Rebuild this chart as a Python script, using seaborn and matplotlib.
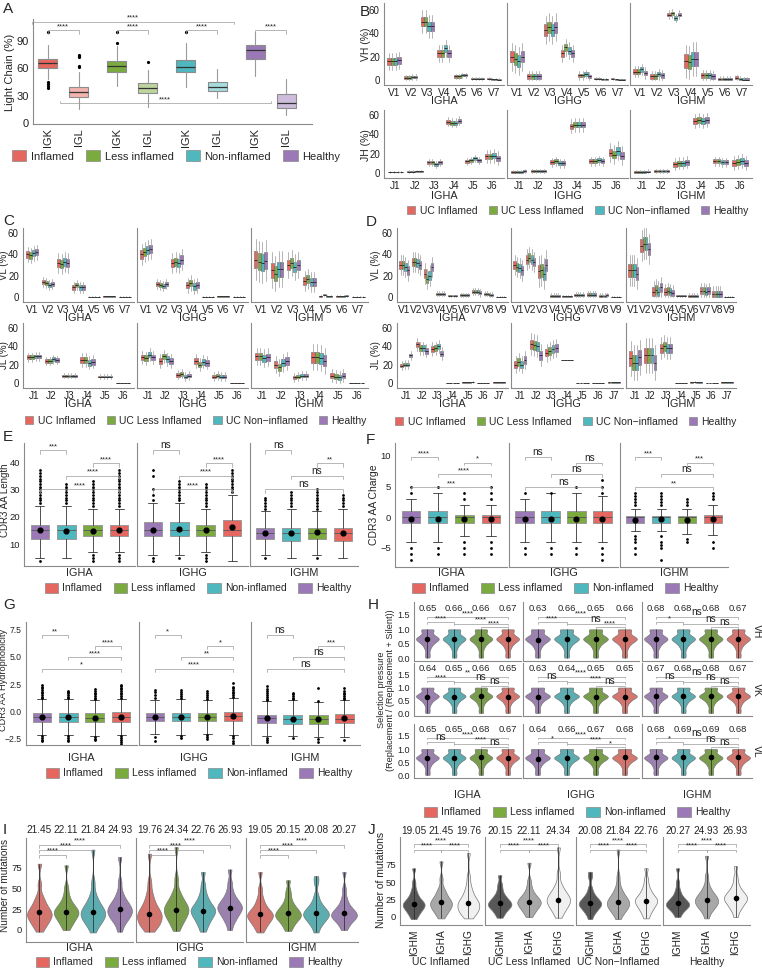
import numpy as np
import pandas as pd
import matplotlib
matplotlib.use("Agg")
import matplotlib.pyplot as plt
from matplotlib.colors import to_rgb
from matplotlib.patches import Patch
import seaborn as sns

sns.set_style("white")
plt.rcParams['font.family'] = ['Liberation Sans', 'DejaVu Sans']
plt.rcParams['font.size'] = 7

# ---------------- data ----------------
conds = ["Inflamed", "Less inflamed", "Non-inflamed", "Healthy"]
cond_colors = ["#E5675F", "#7BAA3F", "#4FB8BE", "#9B79B6"]
uc_labels = ["UC Inflamed", "UC Less Inflamed", "UC Non\u2212inflamed", "Healthy"]
isotypes = ["IGHA", "IGHG", "IGHM"]

# A: light chain usage, per condition [IGK, IGL]
a_ticks = ["IGK", "IGL"]
a_lo = [[48, 15], [41, 18], [40, 28], [52, 9]]
a_q1 = [[60, 29], [56, 33], [56, 35], [70, 16]]
a_med = [[66, 34], [62, 38], [61, 40], [80, 22]]
a_q3 = [[70, 40], [68, 44], [69, 45], [86, 32]]
a_hi = [[86, 56], [84, 58], [88, 59], [100, 48]]
a_fliers = [[[100, 45, 43, 41, 38], [75, 74, 72, 63, 61]], [[100, 88], [67]], [[100], []], [[], []]]

# B: VH / JH gene usage (%), medians per gene [Inflamed, Less, Non, Healthy], box half heights
vh_genes = ["V1", "V2", "V3", "V4", "V5", "V6", "V7"]
vh_med = [
    [[16, 16, 16, 17], [2, 2, 2.5, 2.5], [50, 50, 46, 46], [23, 23, 27, 23], [3, 3, 4, 4], [1, 1, 1, 1], [1, 0.5, 0.5, 0.3]],
    [[20, 18, 16, 20], [3, 3, 3, 3], [43, 45, 43, 45], [23, 28, 25, 23], [4, 4, 5, 3], [1, 1, 0.5, 0.5], [1, 0.5, 0.3, 0.3]],
    [[7, 7, 9, 6], [3, 3, 5, 4], [56, 57, 53, 56], [16, 15, 18, 18], [4, 4, 4, 3], [1, 1, 1, 1], [2, 1, 0.3, 0.3]],
]
vh_half = [[3, 1, 4, 3, 1, 0.5, 0.5], [5, 2, 5, 3, 1.5, 0.5, 0.3], [2, 2, 1.5, 6, 2, 1, 1]]
jh_genes = ["J1", "J2", "J3", "J4", "J5", "J6"]
jh_med = [
    [[1, 1, 1, 1], [1.5, 1.5, 2, 2], [11, 11, 9, 11], [53, 52, 52, 54], [12, 13, 15, 13], [17, 17, 18, 15]],
    [[1, 1, 1, 2], [2, 2, 2, 2], [11, 12, 10, 10], [48, 50, 50, 50], [12, 12, 13, 12], [21, 19, 23, 18]],
    [[1, 1, 1, 1.5], [2, 2, 2, 2], [9, 10, 10, 11], [54, 55, 54, 55], [12, 12, 11, 11], [10, 11, 12, 10]],
]
jh_half = [[0.5, 0.5, 1.5, 2, 1.5, 3], [1, 1, 2, 3, 2, 4], [1, 1, 2.5, 3, 2, 3]]

# C: kappa VL / JL
ck_vgenes = ["V1", "V2", "V3", "V4", "V5", "V6", "V7"]
ck_vmed = [
    [[40, 39, 41, 42], [14, 13, 11, 12], [32, 31, 33, 32], [9, 11, 9, 9], [0, 0, 0, 0], [0.5, 0.5, 0.5, 0.5], [0, 0, 0, 0]],
    [[40, 42, 44, 45], [12, 11, 10, 12], [32, 33, 32, 35], [11, 13, 10, 11], [0, 0, 0, 0], [0.5, 0.5, 0.5, 0.5], [0, 0, 0, 0]],
    [[35, 33, 32, 34], [25, 22, 26, 26], [30, 32, 28, 30], [15, 17, 14, 14], [0.5, 2, 0.5, 0.5], [0.5, 0.5, 0.5, 1], [0, 0, 0, 0]],
]
ck_vhalf = [[3, 2, 4, 2, 0.2, 0.2, 0.2], [4, 2, 4, 3, 0.2, 0.2, 0.2], [8, 7, 5, 4, 0.5, 0.5, 0.2]]
ck_jgenes = ["J1", "J2", "J3", "J4", "J5", "J6"]
ck_jmed = [
    [[28, 28, 29, 29], [24, 24, 26, 25], [8, 8, 8, 8], [25, 25, 22, 23], [7, 7, 7, 7], [0, 0, 0, 0]],
    [[28, 27, 31, 28], [24, 29, 26, 24], [9, 10, 7, 8], [24, 20, 23, 22], [7, 8, 7, 7], [0, 0, 0, 0]],
    [[29, 29, 27, 28], [20, 17, 22, 24], [6, 7, 8, 8], [28, 28, 27, 24], [8, 7, 6, 8], [0, 0, 0, 0]],
]
ck_jhalf = [[2, 2, 1, 3, 1, 0.2], [3, 3, 2, 3, 2, 0.2], [4, 4, 2, 6, 3, 0.2]]

# D: lambda VL / JL
dl_vgenes = ["V1", "V2", "V3", "V4", "V5", "V6", "V7", "V8", "V9"]
dl_vmed = [
    [[30, 30, 28, 25], [33, 33, 32, 30], [22, 17, 20, 28], [3, 3, 3, 3], [1, 1, 1, 1], [2, 2, 2, 2], [5, 5, 5, 4], [3, 3, 2, 2], [0, 0, 0, 0]],
    [[30, 28, 27, 25], [35, 37, 35, 33], [24, 25, 22, 30], [1, 1, 1, 1], [0.5, 0.5, 0.5, 0.5], [2, 2, 2, 2], [2, 2, 2, 2], [1, 1, 1, 1.5], [0, 0, 0, 0]],
    [[25, 25, 25, 22], [48, 50, 50, 45], [5, 7, 5, 9], [5, 6, 5, 4], [1, 1, 1, 1], [1, 1, 1, 1], [6, 6, 5, 6], [3, 3, 3, 3], [0, 0, 0, 0]],
]
dl_vhalf = [[4, 4, 4, 1, 0.5, 0.7, 1.5, 1, 0.2], [4, 4, 6, 1, 0.5, 1, 1.5, 1, 0.2], [6, 6, 4, 3, 0.5, 1, 3, 3, 0.2]]
dl_jgenes = ["J1", "J2", "J3", "J4", "J5", "J6", "J7"]
dl_jmed = [
    [[19, 20, 20, 30], [42, 38, 38, 35], [37, 38, 40, 32], [0, 0, 0, 0], [0.5, 0.5, 0.5, 1], [0, 0, 0, 0], [0.5, 0.5, 0.5, 0.5]],
    [[20, 23, 20, 25], [42, 41, 40, 30], [33, 35, 37, 38], [25, 25, 25, 25], [0, 0, 0, 0], [0, 0, 0, 0], [0.5, 0.5, 0.5, 0.5]],
    [[27, 22, 22, 28], [30, 30, 30, 22], [38, 40, 38, 38], [0, 0, 0, 0], [0.5, 1, 0.5, 0.5], [0, 0, 0, 0], [0.5, 0.5, 0.5, 0.5]],
]
dl_jhalf = [[2, 3, 3, 0.2, 0.3, 0.2, 0.2], [4, 5, 4, 0.1, 0.2, 0.2, 0.2], [8, 8, 5, 0.2, 0.3, 0.2, 0.2]]

# E-G: order Healthy, Non-inflamed, Less inflamed, Inflamed
efg_colors = cond_colors[::-1]
e_q1 = [[12, 12, 13, 13], [13, 13, 13, 13], [12, 11, 12, 11]]
e_med = [[15, 15, 15, 15], [15, 15, 15, 15], [14, 14, 14, 14]]
e_q3 = [[17, 17, 17, 17], [18, 18, 17, 19], [16, 16, 16, 16]]
e_lo = [[5, 5, 7, 7], [6, 6, 7, 4], [6, 5, 6, 5]]
e_hi = [[24, 24, 23, 23], [25, 25, 23, 28], [22, 23, 22, 23]]
e_mean = [[15, 14.8, 14.9, 15.2], [15.3, 15.5, 15.3, 16.1], [14, 14, 14.3, 14]]
e_fl = [
    [[4] + list(range(25, 38)), list(range(25, 33)), [4, 5, 6] + list(range(24, 34)), [4, 5, 6] + list(range(24, 38))],
    [[4, 5, 26, 28, 30, 35, 37], [5] + list(range(26, 34)), [4, 5, 6] + list(range(24, 33)), list(range(29, 38))],
    [[5] + list(range(23, 28)), list(range(24, 30)), [5] + list(range(23, 31)), list(range(24, 29))],
]
e_sig = [["***", "****", "****", "****"], ["ns", "****", "****", "****"], ["ns", "**", "ns", "ns"]]
e_sig_y = [44.3, 39.6, 35, 30]

f_q1 = [[-1, -1, -1, -1], [-1, -1, -1, -1], [-1, -1, -1, -1]]
f_med = [[0, 0, 0, 0], [0, 0, 0, 0], [0, 0, 0, 0]]
f_q3 = [[1, 1, 0.3, 0.3], [1, 1, 1, 1], [0.2, 0.2, 0.2, 0.3]]
f_lo = [[-4, -4, -3, -3], [-4, -4, -4, -4], [-2.2, -2.3, -2.7, -2.9]]
f_hi = [[3, 4, 2, 2], [3, 4, 4, 3.5], [1.3, 1.3, 1.3, 2]]
f_mean = [[-0.3, -0.3, -0.3, -0.3], [-0.3, -0.3, -0.3, -0.3], [-0.4, -0.3, -0.4, -0.3]]
f_fl = [
    [[-5, -6, -7, 4, 5], [-5, -6, 5], [-4, -5, -6, 3, 4], [-4, -5, -6, 3, 4, 5]],
    [[-5, -6, 4], [-5, -6, 4], [-5, -6, 5], [-5, -6, -7, 4, 5, 6]],
    [[-3, -3.5, -4, -5, -6, 2, 2.5, 3, 3.5, 4], [-3, -4, -4.5, -5, -7, 2, 2.5, 3, 3.5, 4], [-3.5, -4, 2, 2.5, 3], [-4, -5, 3, 3.5, 4]],
]
f_sig = [["****", "*", "****", "***"], ["ns", "ns", "ns", "ns"], ["***", "***", "ns", "**"]]
f_sig_y = [9.8, 8.9, 7.0, 4.9]

g_q1 = [[-0.95, -0.95, -1.0, -0.95], [-0.9, -0.9, -0.9, -0.9], [-1.1, -1.15, -1.15, -1.1]]
g_med = [[-0.55, -0.55, -0.6, -0.55], [-0.55, -0.5, -0.5, -0.45], [-0.65, -0.7, -0.75, -0.7]]
g_q3 = [[-0.15, -0.15, -0.2, -0.1], [-0.15, -0.15, -0.15, -0.05], [-0.3, -0.3, -0.35, -0.25]]
g_lo = [[-2.2, -2.2, -2.3, -2.2], [-2.1, -2.2, -2.1, -2.2], [-2.3, -2.25, -2.4, -2.35]]
g_hi = [[1.1, 1.1, 1.0, 1.15], [1.05, 1.1, 1.0, 1.25], [0.9, 1.0, 0.85, 1.0]]
g_mean = [[-0.55, -0.55, -0.6, -0.55], [-0.55, -0.5, -0.5, -0.45], [-0.65, -0.7, -0.75, -0.65]]
g_fl = [
    [[1.2, 1.35, 1.5, 1.65, 1.8, 1.95, 2.1, 2.25, 2.4, -2.3, -2.45, -2.6, -2.75],
     [1.2, 1.35, 1.5, 1.65, 1.8, 1.9, -2.3, -2.45, -2.6, -2.75],
     [1.1, 1.25, 1.4, 1.55, 1.7, 1.85, 2.0, -2.4, -2.55, -2.65],
     [1.25, 1.4, 1.55, 1.7, 1.85, 2.0, 2.15, 2.3, 2.45, -2.3, -2.45, -2.6, -2.8, -3.05]],
    [[1.2, 1.5, 1.75, 1.95, -2.4, -2.7],
     [1.2, 1.4, 1.6, 1.8, 1.95, -2.3, -2.45],
     [1.1, 1.3, 1.5, 1.7, 1.85, -2.2, -2.4, -2.55],
     [1.35, 1.5, 1.65, 1.8, 1.95, 2.1, 2.25, 2.55, -2.3, -2.5, -2.7, -2.9, -3.1]],
    [[1.0, 1.15, 1.3, 1.5, 1.7, 1.9, 2.05, 2.3, -2.45, -2.6, -2.8],
     [1.1, 1.25, 1.4, 1.55, 1.7, -2.5],
     [0.95, 2.1, -2.55, -2.85],
     [1.1, 1.25, 1.4, 1.55, 1.7, 1.85, 2.1, -2.6]],
]
g_sig = [["**", "****", "****", "*"], ["*", "*", "**", "****"], ["ns", "***", "ns", "ns"]]
g_sig_y = [7.0, 5.95, 4.95, 3.9]

# H: selection pressure, order Healthy, Non, Less, Inflamed
h_rows = ["VH", "VK", "VL"]
h_sample = [0.02, 0.15, 0.3, 0.4, 0.47, 0.52, 0.56, 0.6, 0.63, 0.65, 0.67, 0.69, 0.71,
            0.74, 0.78, 0.83, 0.9, 0.97, 1.0, 1.0]
h_mean = [
    [[0.65, 0.66, 0.66, 0.67], [0.63, 0.66, 0.65, 0.66], [0.68, 0.68, 0.68, 0.67]],
    [[0.64, 0.65, 0.66, 0.65], [0.63, 0.64, 0.65, 0.65], [0.67, 0.68, 0.68, 0.67]],
    [[0.65, 0.65, 0.68, 0.67], [0.64, 0.66, 0.67, 0.68], [0.68, 0.69, 0.69, 0.68]],
]
h_pairs = [(0, 3), (0, 1), (1, 3), (2, 3)]
h_pair_y = [1.42, 1.25, 1.2, 1.07]
h_sig = [
    [["****", "****", "****", "****"], ["****", "****", "ns", "****"], ["ns", "*", "ns", "ns"]],
    [["**", "****", "ns", "ns"], ["****", "ns", "****", "ns"], ["ns", "ns", "ns", "ns"]],
    [["****", "ns", "****", "ns"], ["****", "*", "****", "*"], ["ns", "*", "ns", "ns"]],
]

# I / J: number of mutations, per isotype [Inflamed, Less, Non, Healthy]
mut_samples = [
    [[-2, 3, 6, 9, 11, 13, 15, 17, 18, 20, 21, 23, 25, 27, 30, 33, 37, 42, 55, 80],
     [0, 5, 8, 11, 13, 15, 17, 19, 20, 21, 23, 24, 26, 28, 30, 33, 37, 43, 52, 78],
     [-3, 4, 7, 10, 12, 14, 16, 18, 19, 21, 22, 24, 26, 28, 31, 34, 38, 45, 58, 97],
     [-2, 6, 10, 13, 15, 17, 19, 21, 22, 24, 25, 27, 29, 31, 33, 36, 40, 46, 58, 88]],
    [[-2, 2, 5, 7, 9, 11, 13, 15, 17, 19, 20, 22, 24, 27, 30, 34, 39, 46, 58, 92],
     [-1, 5, 9, 12, 15, 17, 19, 21, 23, 25, 26, 28, 30, 32, 35, 38, 42, 48, 62, 100],
     [-2, 4, 8, 11, 14, 16, 18, 20, 22, 23, 25, 26, 28, 30, 33, 36, 40, 46, 55, 70],
     [0, 8, 12, 15, 18, 20, 22, 24, 26, 27, 28, 30, 32, 34, 36, 39, 43, 49, 58, 73]],
    [[-3, 2, 5, 8, 10, 12, 14, 15, 17, 18, 19, 21, 22, 24, 27, 30, 34, 40, 50, 70],
     [-1, 4, 7, 10, 12, 14, 15, 17, 18, 19, 21, 22, 24, 26, 28, 31, 35, 41, 48, 60],
     [-3, 4, 7, 10, 12, 14, 16, 17, 18, 20, 21, 22, 24, 26, 28, 31, 35, 42, 57, 65],
     [0, 5, 8, 11, 13, 14, 15, 17, 18, 19, 20, 22, 23, 25, 27, 30, 34, 40, 50, 70]],
]
mut_mean = [[21.45, 22.11, 21.84, 24.93], [19.76, 24.34, 22.76, 26.93], [19.05, 20.15, 20.08, 20.27]]
j_groups = ["UC Inflamed", "UC Less Inflamed", "UC Non\u2212Inflamed", "Healthy"]
j_isotypes = ["IGHM", "IGHA", "IGHG"]
j_iso_index = [2, 0, 1]
j_colors = ["#585858", "#a8a8a8", "#f0f0f0"]

# ---------------- helpers ----------------
W, H = 762, 968
fig = plt.figure(figsize=(W / 100, H / 100), dpi=100)
GRID = "#8a8a8a"


def add_ax(x0, y0, x1, y1):
    return fig.add_axes([x0 / W, 1 - y1 / H, (x1 - x0) / W, (y1 - y0) / H])


def tidy(ax, fs=6.8, left_labels=True):
    sns.despine(ax=ax)
    for s in ("left", "bottom"):
        ax.spines[s].set_color(GRID)
        ax.spines[s].set_linewidth(0.8)
    ax.tick_params(labelsize=fs, length=2, width=0.5, pad=1, color="#555", labelcolor="#222")
    if not left_labels:
        ax.tick_params(left=False, labelleft=False)
    ax.set_xlabel("")
    ax.set_ylabel("")


def ftext(x, y, s, **kw):
    fig.text(x / W, 1 - y / H, s, **kw)


def ylab(x, y, s, fs=7.5):
    ftext(x, y, s, rotation=90, ha="center", va="center", fontsize=fs)


def under(ax, s, y, fs=7.8):
    b = ax.get_position()
    fig.text(b.x0 + b.width / 2, 1 - y / H, s, ha="center", va="center", fontsize=fs)


def legend(colors, labels, x, y, fs=7.5, small=False):
    hs = [Patch(facecolor=c, edgecolor="#888", lw=0.5) for c in colors]
    fig.legend(hs, labels, loc="center", bbox_to_anchor=(x / W, 1 - y / H), ncol=len(labels),
               frameon=False, fontsize=fs, handlelength=0.8 if small else 1.3,
               handleheight=0.8 if small else 1.1, handletextpad=0.4, columnspacing=1.1, borderpad=0)


def lighten(c, f=0.5):
    return tuple(v + (1 - v) * f for v in to_rgb(c))


def bracket(ax, x1, x2, y, label, tip, up=False):
    d = -tip if not up else tip
    ax.plot([x1, x1, x2, x2], [y + d, y, y, y + d], color="#9a9a9a", lw=0.5, clip_on=False)
    star = "*" in label
    ax.text((x1 + x2) / 2, y, label, ha="center", va="bottom", fontsize=5.5 if star else 7.2,
            color="#222", clip_on=False)


def gene_panel(ax, meds, halves, genes, ylim, left_labels):
    stats, pos, cols = [], [], []
    for gi in range(len(genes)):
        h = halves[gi]
        for ci in range(4):
            m = meds[gi][ci]
            stats.append(dict(med=m, q1=max(m - h, 0), q3=m + h, whislo=max(m - 2.4 * h, 0),
                              whishi=m + 2.4 * h, fliers=[]))
            pos.append(gi + (ci - 1.5) * 0.2)
            cols.append(cond_colors[ci])
    bp = ax.bxp(stats, positions=pos, widths=0.19, patch_artist=True, showcaps=False, showfliers=False,
                boxprops=dict(edgecolor="#666", lw=0.4), whiskerprops=dict(color="#aaa", lw=0.6),
                medianprops=dict(color="#222", lw=0.6))
    for p, c in zip(bp["boxes"], cols):
        p.set_facecolor(c)
    ax.set_xticks(range(len(genes)))
    ax.set_xticklabels(genes)
    ax.set_xlim(-0.6, len(genes) - 0.4)
    ax.set_ylim(*ylim)
    ax.set_yticks([0, 20, 40, 60])
    tidy(ax, fs=7, left_labels=left_labels)
    ax.tick_params(axis="x", length=1.5, pad=0.5, labelsize=7.3)


def cond_boxes(ax, q1, med, q3, lo, hi, fl, mean, sig, sig_y, tip, ylim, yticks, left_labels, fs=6.8):
    stats = [dict(q1=q1[k], med=med[k], q3=q3[k], whislo=lo[k], whishi=hi[k], fliers=fl[k]) for k in range(4)]
    bp = ax.bxp(stats, positions=range(4), widths=0.7, patch_artist=True, capwidths=0.35,
                boxprops=dict(edgecolor="#9a9a9a", lw=0.7), whiskerprops=dict(color="#333", lw=0.6),
                capprops=dict(color="#333", lw=0.6), medianprops=dict(color="#555", lw=0.6),
                flierprops=dict(marker="o", ms=2.0, mfc="black", mec="none"))
    for p, c in zip(bp["boxes"], efg_colors):
        p.set_facecolor(c)
    ax.scatter(range(4), mean, s=12, color="black", zorder=5)
    for (a, b), lab, y in zip([(0, 1), (2, 3), (1, 3), (0, 3)], sig, sig_y):
        bracket(ax, a, b, y, lab, tip)
    ax.set_xlim(-0.6, 3.6)
    ax.set_ylim(*ylim)
    ax.set_yticks(yticks)
    ax.set_xticks([])
    tidy(ax, fs=fs, left_labels=left_labels)


def violins(ax, samples, names, colors, means, width=0.8, bw=0.7):
    rows = []
    for n, s in zip(names, samples):
        rows += [(n, v) for v in s]
    df = pd.DataFrame(rows, columns=["grp", "val"])
    sns.violinplot(data=df, x="grp", y="val", hue="grp", order=names, hue_order=names,
                   palette=dict(zip(names, colors)), legend=False, cut=0, inner=None,
                   linewidth=0.5, linecolor="#777", density_norm="width", width=width,
                   bw_adjust=bw, ax=ax)
    ax.vlines(range(len(names)), [min(s) for s in samples], [max(s) for s in samples],
              color="#222", lw=0.5, zorder=3)
    ax.scatter(range(len(names)), means, s=9, color="black", zorder=5)


# ---------------- A ----------------
ax = add_ax(33, 19, 312, 124)
stats, pos, cols = [], [], []
for g in range(4):
    for k in range(2):
        stats.append(dict(whislo=a_lo[g][k], q1=a_q1[g][k], med=a_med[g][k], q3=a_q3[g][k],
                          whishi=a_hi[g][k], fliers=a_fliers[g][k]))
        pos.append(g * 2 + k * 0.9)
        cols.append(cond_colors[g] if k == 0 else lighten(cond_colors[g]))
bp = ax.bxp(stats, positions=pos, widths=0.55, patch_artist=True, showcaps=False,
            boxprops=dict(edgecolor="#8c8c8c", lw=0.8), whiskerprops=dict(color="#9a9a9a", lw=0.8),
            medianprops=dict(color="#333", lw=0.9), flierprops=dict(marker="o", ms=2.3, mfc="black", mec="none"))
for p, c in zip(bp["boxes"], cols):
    p.set_facecolor(c)
for g in range(4):
    bracket(ax, pos[2 * g], pos[2 * g + 1], 102, "****", 4)
bracket(ax, pos[0] - 0.45, pos[5] + 0.5, 111, "****", 2)
bracket(ax, pos[1] - 0.55, pos[7] - 0.45, 22, "****", 2, up=True)
ax.set_xticks(pos)
ax.set_xticklabels(a_ticks * 4, rotation=90)
ax.set_xlim(-0.43, 7.65)
ax.set_ylim(-1, 114)
ax.set_yticks([0, 30, 60, 90])
tidy(ax, fs=8)
ylab(10, 72, "Light Chain (%)", fs=8)
legend(cond_colors, conds, 176, 156, fs=8)

# ---------------- B, C, D ----------------
bx = [(384, 504), (507, 628), (630, 752)]
cx = [(23, 134), (137, 248), (251, 368)]
dx = [(397, 508), (511, 623), (626, 736)]
rows_bcd = [
    (bx, (3, 85), vh_med, vh_half, vh_genes, (-4.3, 66), 101),
    (bx, (110, 178), jh_med, jh_half, jh_genes, (-5.2, 65), 196),
    (cx, (228, 302), ck_vmed, ck_vhalf, ck_vgenes, (-4.7, 64.7), 318),
    (cx, (323, 388), ck_jmed, ck_jhalf, ck_jgenes, (-5.5, 65.4), 404),
    (dx, (228, 302), dl_vmed, dl_vhalf, dl_vgenes, (-4.7, 64.7), 318),
    (dx, (323, 388), dl_jmed, dl_jhalf, dl_jgenes, (-5.5, 65.4), 404),
]
for xs, (y0, y1), meds, halves, genes, yl, ylabel_y in rows_bcd:
    for i, (x0, x1) in enumerate(xs):
        ax = add_ax(x0, y0, x1, y1)
        gene_panel(ax, meds[i], halves[i], genes, yl, i == 0)
        under(ax, isotypes[i], ylabel_y)
ylab(366, 44, "VH (%)")
ylab(366, 145, "JH (%)")
ylab(4, 265, "VL (%)", fs=7)
ylab(4, 355, "JL (%)", fs=7)
ylab(376, 265, "VL (%)", fs=7)
ylab(376, 355, "JL (%)", fs=7)
legend(cond_colors, uc_labels, 578, 211, fs=7.5, small=True)
legend(cond_colors, uc_labels, 196, 421, fs=7.5, small=True)
legend(cond_colors, uc_labels, 566, 422, fs=7.5, small=True)

# ---------------- E, F, G ----------------
ex = [(24, 135), (137, 248), (250, 358)]
fx = [(395, 507), (509, 618), (620, 728)]
gx = [(26, 137), (139, 249), (251, 360)]
for i in range(3):
    ax = add_ax(ex[i][0], 443, ex[i][1], 566)
    cond_boxes(ax, e_q1[i], e_med[i], e_q3[i], e_lo[i], e_hi[i], e_fl[i], e_mean[i],
               e_sig[i], e_sig_y, 1.3, (2, 47), [10, 20, 30, 40], i == 0)
    under(ax, isotypes[i], 573)
    ax = add_ax(fx[i][0], 443, fx[i][1], 567)
    cond_boxes(ax, f_q1[i], f_med[i], f_q3[i], f_lo[i], f_hi[i], f_fl[i], f_mean[i],
               f_sig[i], f_sig_y, 0.45, (-8.1, 12.1), [-5, 0, 5, 10], i == 0)
    under(ax, isotypes[i], 573)
    ax = add_ax(gx[i][0], 622, gx[i][1], 745)
    cond_boxes(ax, g_q1[i], g_med[i], g_q3[i], g_lo[i], g_hi[i], g_fl[i], g_mean[i],
               g_sig[i], g_sig_y, 0.25, (-3.1, 8.2), [-2.5, 0, 2.5, 5, 7.5], i == 0, fs=6.2)
    under(ax, isotypes[i], 758)
ylab(5, 500, "CDR3 AA Length", fs=7)
ylab(374, 505, "CDR3 AA Charge")
ylab(4, 680, "CDR3 AA Hydrophobicity", fs=6.6)
legend(cond_colors, conds, 198, 588)
legend(cond_colors, conds, 565, 588)
legend(cond_colors, conds, 199, 773)

# ---------------- H ----------------
hx = [(414, 521), (523, 639), (642, 752)]
hy = [(602, 661), (663, 716), (724, 778)]
h_names = conds[::-1]
for r in range(3):
    for i in range(3):
        ax = add_ax(hx[i][0], hy[r][0], hx[i][1], hy[r][1])
        violins(ax, [h_sample] * 4, h_names, efg_colors, h_mean[r][i], width=0.85, bw=0.5)
        for k, m in enumerate(h_mean[r][i]):
            ax.text(k, 1.74, f"{m:.2f}", ha="center", va="center", fontsize=6.8)
        for (a, b), lab, y in zip(h_pairs, h_sig[r][i], h_pair_y):
            bracket(ax, a, b, y, lab, 0.05)
        ax.set_ylim(-0.1, 1.95)
        ax.set_xlim(-0.5, 3.5)
        ax.set_yticks([0, 0.5, 1.0, 1.5])
        ax.set_yticklabels(["0.0", "0.5", "1.0", "1.5"])
        ax.set_xticks(range(4))
        tidy(ax, fs=6.5, left_labels=(i == 0))
        ax.tick_params(labelbottom=False)
        if r == 2:
            under(ax, isotypes[i], 795)
    ftext(757, (hy[r][0] + hy[r][1]) / 2, h_rows[r], rotation=270, ha="center", va="center", fontsize=7.5)
ftext(386, 690, "Selection pressure\n(Replacement / (Replacement + Silent))", rotation=90,
      ha="center", va="center", fontsize=6.6, linespacing=1.05)
legend(cond_colors, conds, 577, 812)

# ---------------- I ----------------
ix = [(26, 133), (136, 243), (246, 358)]
for i in range(3):
    ax = add_ax(ix[i][0], 838, ix[i][1], 942)
    violins(ax, mut_samples[i], conds, cond_colors, mut_mean[i], width=0.92, bw=0.5)
    for k, m in enumerate(mut_mean[i]):
        ax.text(k, 121, f"{m:.2f}", ha="center", va="center", fontsize=7.2)
    for (a, b), y in zip([(0, 1), (0, 2), (0, 3)], [91, 97, 103]):
        bracket(ax, a, b, y, "****", 4)
    ax.set_ylim(-14.5, 111)
    ax.set_xlim(-0.5, 3.5)
    ax.set_yticks([0, 25, 50, 75])
    ax.set_xticks(range(4))
    tidy(ax, left_labels=(i == 0))
    ax.tick_params(labelbottom=False)
    under(ax, isotypes[i], 948)
ylab(5, 885, "Number of mutations", fs=7.2)
legend(cond_colors, conds, 189, 962)

# ---------------- J ----------------
jx = [(400, 482), (485, 573), (576, 660), (663, 750)]
for c in range(4):
    ax = add_ax(jx[c][0], 837, jx[c][1], 925)
    samp = [mut_samples[j][c] for j in j_iso_index]
    means = [mut_mean[j][c] for j in j_iso_index]
    violins(ax, samp, j_isotypes, j_colors, means, width=0.8, bw=0.5)
    for k, m in enumerate(means):
        ax.text(k, 124, f"{m:.2f}", ha="center", va="center", fontsize=7.2)
    for (a, b), y in zip([(0, 1), (1, 2), (0, 2)], [97, 97, 105]):
        bracket(ax, a, b, y, "****", 4)
    ax.set_ylim(-11.5, 115)
    ax.set_xlim(-0.5, 2.5)
    ax.set_yticks([0, 25, 50, 75])
    tidy(ax, left_labels=(c == 0))
    ax.set_xticks(range(3))
    ax.set_xticklabels(j_isotypes, rotation=90, fontsize=7.3)
    under(ax, j_groups[c], 962, fs=7.5)
ylab(381, 880, "Number of mutations")

# ---------------- panel letters ----------------
for lab, x, y in [("A", 3, 9), ("B", 360, 12), ("C", 3, 221), ("D", 366, 222), ("E", 3, 437),
                  ("F", 366, 440), ("G", 3, 605), ("H", 368, 605), ("I", 3, 830), ("J", 368, 830)]:
    ftext(x, y, lab, fontsize=11, ha="left", va="center")

fig.savefig("out.png", dpi=100)
